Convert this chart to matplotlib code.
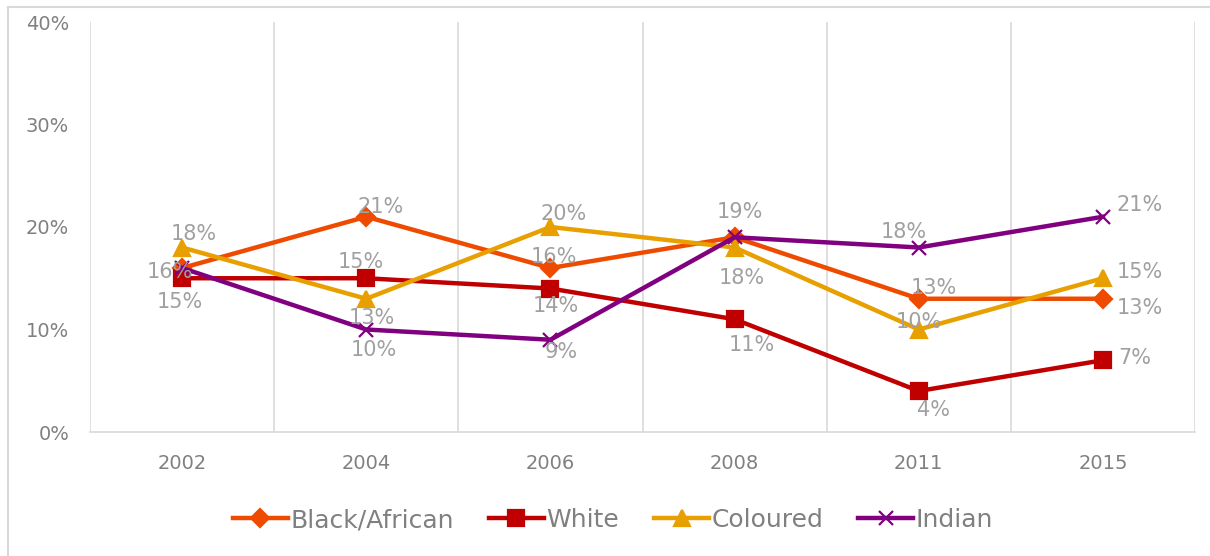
import matplotlib
matplotlib.use("Agg")
from matplotlib import pyplot as plt
from matplotlib.ticker import PercentFormatter
from matplotlib.lines import Line2D

years = ['2002', '2004', '2006', '2008', '2011', '2015']
black_african = [16, 21, 16, 19, 13, 13]
white = [15, 15, 14, 11, 4, 7]
coloured = [18, 13, 20, 18, 10, 15]
indian = [16, 10, 9, 19, 18, 21]

# label offsets in pixels (None = no label shown)
off_black = [(-12, -4), (14, 10), (3, 11), (5, 25), (15, 11), (37, -9)]
off_white = [(-2, -24), (-5, 16), (5, -17), (17, -26), (15, -19), (32, 2)]
off_coloured = [(12, 14), (6, -19), (13, 13), (7, -30), (0, 8), (37, 6)]
off_indian = [None, (8, -21), (11, -12), None, (-15, 15), (37, 12)]

plt.rcParams['font.family'] = ['DejaVu Sans']

fig = plt.figure(figsize=(12.1, 5.56), dpi=100)
ax = fig.add_axes([90 / 1210, 1 - 432 / 556, (1195 - 90) / 1210, (432 - 22) / 556])

x = list(range(len(years)))
series = [
    ('Black/African', black_african, '#EE4B00', 'D', 9, off_black),
    ('White', white, '#C00000', 's', 11, off_white),
    ('Coloured', coloured, '#E8A000', '^', 11, off_coloured),
    ('Indian', indian, '#800080', 'x', 10, off_indian),
]
for name, vals, col, mk, ms, offs in series:
    ax.plot(x, [v / 100 for v in vals], color=col, lw=3.2, marker=mk, ms=ms,
            mew=1.6, label=name, solid_joinstyle='round')
    for xi, v, o in zip(x, vals, offs):
        if o is None:
            continue
        ax.annotate(f'{v}%', (xi, v / 100), xytext=o, textcoords='offset pixels',
                    ha='center', va='center', fontsize=15, color='#A0A0A0')

ax.set_xlim(-0.5, len(years) - 0.5)
ax.set_ylim(0, 0.4)
ax.set_yticks([0, 0.1, 0.2, 0.3, 0.4])
ax.yaxis.set_major_formatter(PercentFormatter(1.0, decimals=0))
ax.set_xticks(x)
ax.set_xticklabels(years)
ax.set_xticks([i - 0.5 for i in range(len(years) + 1)], minor=True)
ax.grid(True, which='minor', axis='x', color='#D9D9D9', lw=1.2)
ax.tick_params(which='both', length=0)
ax.tick_params(axis='y', pad=15, labelsize=14, labelcolor='#808080')
ax.tick_params(axis='x', pad=16, labelsize=14, labelcolor='#808080')
for s in ['top', 'right', 'left']:
    ax.spines[s].set_visible(False)
ax.spines['bottom'].set_color('#D9D9D9')
ax.spines['bottom'].set_linewidth(1.2)

leg = fig.legend(loc='center', bbox_to_anchor=(613 / 1210, 1 - 520 / 556), ncol=4,
                 frameon=False, fontsize=18, handlelength=2.2, handletextpad=0.1,
                 columnspacing=1.4)
for t in leg.get_texts():
    t.set_color('#808080')

# chart border (top and left edges visible)
bx, by = 8 / 1210, 1 - 7 / 556
fig.add_artist(Line2D([bx, 1], [by, by], transform=fig.transFigure,
                      color='#D9D9D9', lw=1.5))
fig.add_artist(Line2D([bx, bx], [0, by], transform=fig.transFigure,
                      color='#D9D9D9', lw=1.5))

plt.savefig('out.png', dpi=100)
